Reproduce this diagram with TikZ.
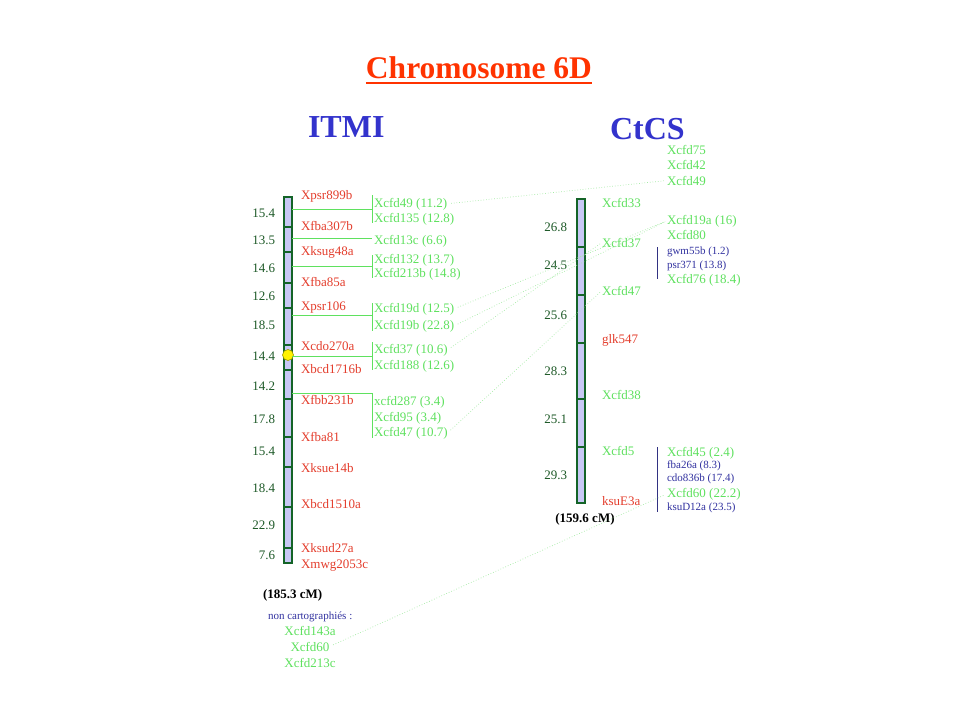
\documentclass[tikz,border=0pt]{standalone}
\usepackage{fontspec}
\setmainfont{Liberation Serif}
\newcommand\myfs[1]{\fontsize{#1}{#1}\selectfont}
\definecolor{titleRed}{RGB}{255,51,0}
\definecolor{headBlue}{RGB}{51,51,204}
\definecolor{mkRed}{RGB}{228,62,45}
\definecolor{mkGreen}{RGB}{95,225,95}
\definecolor{linkGreen}{RGB}{165,235,165}
\definecolor{numGreen}{RGB}{30,90,40}
\definecolor{smallBlue}{RGB}{50,50,160}
\definecolor{barFill}{RGB}{200,200,245}
\definecolor{barLine}{RGB}{20,100,40}
\definecolor{navyLine}{RGB}{50,50,130}
\tikzset{
 every node/.style={inner sep=0pt, outer sep=0pt},
 num/.style={anchor=base east, text=numGreen, font=\myfs{13}},
 mk/.style={anchor=base west, text=mkRed, font=\myfs{13}},
 gmk/.style={anchor=base west, text=mkGreen, font=\myfs{13}},
 bmk/.style={anchor=base west, text=smallBlue, font=\myfs{11}},
 link/.style={draw=linkGreen, dotted, line width=0.7pt, shorten <=4pt, shorten >=2pt},
 hline/.style={draw=mkGreen, line width=0.8pt},
 bar/.style={draw=barLine, fill=barFill, line width=1.1pt},
 tick/.style={draw=barLine, line width=1.1pt},
 vbar/.style={draw=navyLine, line width=0.9pt},
}
\begin{document}
\begin{tikzpicture}[x=1pt,y=-1pt]
\useasboundingbox[fill=white] (0,0) rectangle (960,720);
% titles
\node[anchor=base, font=\myfs{31.5}\bfseries, text=titleRed] (title) at (479,78) {Chromosome 6D};
\draw[titleRed, line width=2.2pt] ([yshift=-5pt]title.base west) -- ([yshift=-5pt]title.base east);
\node[anchor=base west, font=\myfs{32}\bfseries, text=headBlue] (itmi) at (308,137) {ITMI};
\node[anchor=base west, font=\myfs{32}\bfseries, text=headBlue] (ctcs) at (610,139) {CtCS};
% left chromosome
\draw[bar] (284,197) rectangle (292,563);
\foreach \y in {227,252,283,308,345,370,399,437,467,507,548} \draw[tick] (284,\y) -- (292,\y);
\node[circle, fill=yellow, draw={rgb,255:red,150;green,150;blue,0}, line width=0.6pt, minimum size=11pt] (cen) at (288,355) {};
% left numbers
\node[num] (n1) at (275,217) {15.4};
\node[num] (n2) at (275,244) {13.5};
\node[num] (n3) at (275,272) {14.6};
\node[num] (n4) at (275,300) {12.6};
\node[num] (n5) at (275,329) {18.5};
\node[num] (n6) at (275,360) {14.4};
\node[num] (n7) at (275,390) {14.2};
\node[num] (n8) at (275,423) {17.8};
\node[num] (n9) at (275,455) {15.4};
\node[num] (n10) at (275,492) {18.4};
\node[num] (n11) at (275,529) {22.9};
\node[num] (n12) at (275,559) {7.6};
% left markers
\node[mk] (m1) at (301,199) {Xpsr899b};
\node[mk] (m2) at (301,230) {Xfba307b};
\node[mk] (m3) at (301,255) {Xksug48a};
\node[mk] (m4) at (301,286) {Xfba85a};
\node[mk] (m5) at (301,310) {Xpsr106};
\node[mk] (m6) at (301,350) {Xcdo270a};
\node[mk] (m7) at (301,373) {Xbcd1716b};
\node[mk] (m8) at (301,404) {Xfbb231b};
\node[mk] (m9) at (301,441) {Xfba81};
\node[mk] (m10) at (301,472) {Xksue14b};
\node[mk] (m11) at (301,508) {Xbcd1510a};
\node[mk] (m12) at (301,552) {Xksud27a};
\node[mk] (m13) at (301,568) {Xmwg2053c};
% left green markers
\node[gmk] (l49) at (374,207) {Xcfd49 (11.2)};
\node[gmk] (l135) at (374,222) {Xcfd135 (12.8)};
\node[gmk] (l13c) at (374,244) {Xcfd13c (6.6)};
\node[gmk] (l132) at (374,263) {Xcfd132 (13.7)};
\node[gmk] (l213b) at (374,277) {Xcfd213b (14.8)};
\node[gmk] (l19d) at (374,312) {Xcfd19d (12.5)};
\node[gmk] (l19b) at (374,329) {Xcfd19b (22.8)};
\node[gmk] (l37) at (374,353) {Xcfd37 (10.6)};
\node[gmk] (l188) at (374,369) {Xcfd188 (12.6)};
\node[gmk] (l287) at (374,405) {xcfd287 (3.4)};
\node[gmk] (l95) at (374,421) {Xcfd95 (3.4)};
\node[gmk] (l47) at (374,436) {Xcfd47 (10.7)};
% green lines and brackets
\draw[hline] (292,209) -- (372,209);
\draw[hline] (372,195) -- (372,223);
\draw[hline] (292,238) -- (372,238);
\draw[hline] (292,266) -- (372,266);
\draw[hline] (372,255) -- (372,278);
\draw[hline] (292,315) -- (372,315);
\draw[hline] (372,303) -- (372,331);
\draw[hline] (292,356) -- (372,356);
\draw[hline] (372,342) -- (372,370);
\draw[hline] (292,393) -- (372,393);
\draw[hline] (372,393) -- (372,438);
% bottom left
\node[anchor=base west, font=\myfs{13}\bfseries] (tot1) at (263,598) {(185.3 cM)};
\node[bmk] (nc) at (268,619) {non cartographiés :};
\node[anchor=base, text=mkGreen, font=\myfs{13}] (u143) at (310,635) {Xcfd143a};
\node[anchor=base, text=mkGreen, font=\myfs{13}] (u60) at (310,651) {Xcfd60};
\node[anchor=base, text=mkGreen, font=\myfs{13}] (u213) at (310,667) {Xcfd213c};
% right chromosome
\draw[bar] (577,199) rectangle (585,503);
\foreach \y in {247,295,343,399,447} \draw[tick] (577,\y) -- (585,\y);
\node[num] (p1) at (567,231) {26.8};
\node[num] (p2) at (567,269) {24.5};
\node[num] (p3) at (567,319) {25.6};
\node[num] (p4) at (567,375) {28.3};
\node[num] (p5) at (567,423) {25.1};
\node[num] (p6) at (567,479) {29.3};
\node[gmk] (r33) at (602,207) {Xcfd33};
\node[gmk] (r37) at (602,247) {Xcfd37};
\node[gmk] (r47) at (602,295) {Xcfd47};
\node[mk] (rglk) at (602,343) {glk547};
\node[gmk] (r38) at (602,399) {Xcfd38};
\node[gmk] (r5) at (602,455) {Xcfd5};
\node[mk] (rksu) at (602,505) {ksuE3a};
\node[anchor=base, font=\myfs{13}\bfseries] (tot2) at (585,522) {(159.6 cM)};
% far right
\node[gmk] (r75) at (667,154) {Xcfd75};
\node[gmk] (r42) at (667,169) {Xcfd42};
\node[gmk] (r49) at (667,185) {Xcfd49};
\node[gmk] (r19a) at (667,224) {Xcfd19a (16)};
\node[gmk] (r80) at (667,239) {Xcfd80};
\node[bmk] (rg55) at (667,254) {gwm55b (1.2)};
\node[bmk] (rp371) at (667,268) {psr371 (13.8)};
\node[gmk] (r76) at (667,283) {Xcfd76 (18.4)};
\draw[vbar] (657,247) -- (657,279);
\node[gmk] (r45) at (667,456) {Xcfd45 (2.4)};
\node[bmk] (rf26) at (667,468) {fba26a (8.3)};
\node[bmk] (rc836) at (667,481) {cdo836b (17.4)};
\node[gmk] (r60) at (667,497) {Xcfd60 (22.2)};
\node[bmk] (rk12) at (667,510) {ksuD12a (23.5)};
\draw[vbar] (657,447) -- (657,512);
% links
\draw[link] (l49.east) -- (r49.west);
\draw[link] (l19d.east) -- (r19a.west);
\draw[link] (l19b.east) -- (r19a.west);
\draw[link] (l37.east) -- (r37.west);
\draw[link] (l47.east) -- (r47.west);
\draw[link] (u60.east) -- (r60.west);
\end{tikzpicture}
\end{document}
